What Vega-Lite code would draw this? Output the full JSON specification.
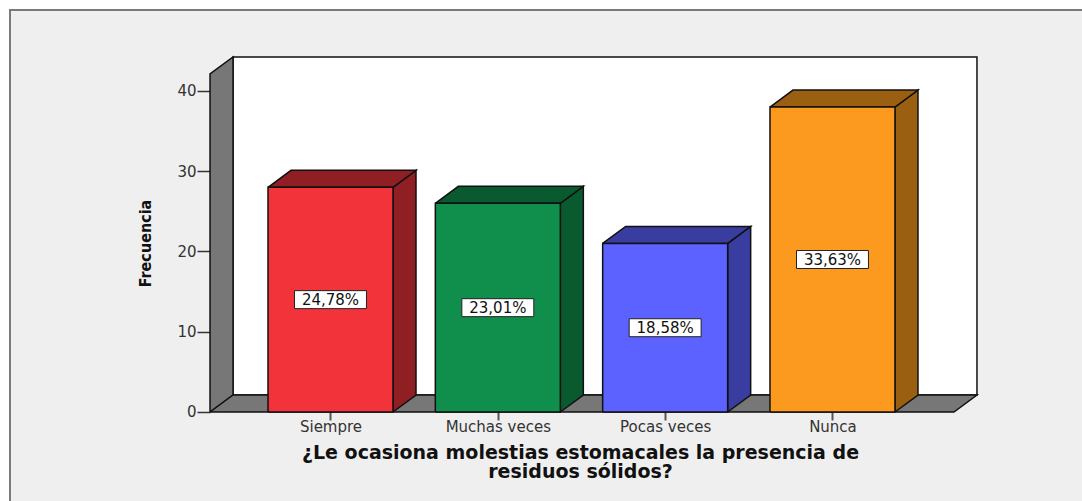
{
"$schema":"https://vega.github.io/schema/vega-lite/v6.json",
"width":1072,"height":491,
"autosize":{"type":"none"},
"padding":{"left":10,"top":10,"right":0,"bottom":0},
"background":"#ffffff",
"view":{"fill":"#efefef","stroke":null},
"config":{"line":{"strokeJoin":"miter","strokeWidth":1.5,"stroke":"#111111"}},
"datasets":{
"barras":[
{"i":1,"categoria":"Siempre","frecuencia":28,"porcentaje":"24,78%"},
{"i":2,"categoria":"Muchas veces","frecuencia":26,"porcentaje":"23,01%"},
{"i":3,"categoria":"Pocas veces","frecuencia":21,"porcentaje":"18,58%"},
{"i":4,"categoria":"Nunca","frecuencia":38,"porcentaje":"33,63%"}
],
"marco":[{"x0":0.28,"x1":4.726,"top":42.12}],
"borde":[{"vx":-0.9154,"vy":-11.09,"k":0},{"vx":-0.9154,"vy":50.09,"k":1},{"vx":5.4912,"vy":50.09,"k":2}]
},
"encoding":{
"x":{"field":"vx","type":"quantitative","scale":{"domain":[-0.9154,5.4912],"nice":false,"zero":false},
 "axis":{"values":[1,2,3,4],"labelExpr":"['Siempre','Muchas veces','Pocas veces','Nunca'][datum.value-1]","grid":false,"domain":false,"offset":-89,
 "tickSize":8,"tickColor":"#555555","tickWidth":2,"labelFont":"DejaVu Sans","labelFontSize":15,"labelColor":"#333333","labelPadding":-1,"labelOverlap":false,
 "title":["¿Le ocasiona molestias estomacales la presencia de","residuos sólidos?"],"titleFont":"DejaVu Sans","titleFontSize":19,"titleFontWeight":"bold","titleColor":"#111111","titleX":570,"titleY":31,"titleLineHeight":19}},
"y":{"field":"vy","type":"quantitative","scale":{"domain":[-11.09,50.09],"nice":false,"zero":false},
 "axis":{"values":[0,10,20,30,40],"grid":false,"domain":false,"offset":-200,
 "tickSize":13,"tickColor":"#333333","tickWidth":1.5,"labelFont":"DejaVu Sans","labelFontSize":15,"labelColor":"#333333","labelPadding":1,
 "title":"Frecuencia","titleFont":"DejaVu Sans Condensed","titleFontSize":16,"titleFontWeight":"bold","titleColor":"#111111","titleX":-57,"titleY":233}},
"order":{"field":"k","type":"quantitative"}
},
"layer":[
{"data":{"name":"borde"},"mark":{"type":"line","stroke":"#7a7a7a","strokeWidth":2,"clip":false}},
{"data":{"name":"marco"},
 "transform":[
 {"calculate":"[datum.x0+0.1375,datum.x1+0.1375,datum.x1+0.1375,datum.x0+0.1375,datum.x0+0.1375]","as":"xs"},
 {"calculate":"[2.118,2.118,datum.top+2.118,datum.top+2.118,2.118]","as":"ys"},
 {"calculate":"[0,1,2,3,4]","as":"ks"},
 {"flatten":["xs","ys","ks"],"as":["vx","vy","k"]}],
 "mark":{"type":"line","fill":"#ffffff"}},
{"data":{"name":"marco"},
 "transform":[
 {"calculate":"[datum.x0,datum.x0+0.1375,datum.x0+0.1375,datum.x0,datum.x0]","as":"xs"},
 {"calculate":"[0,2.118,datum.top+2.118,datum.top,0]","as":"ys"},
 {"calculate":"[0,1,2,3,4]","as":"ks"},
 {"flatten":["xs","ys","ks"],"as":["vx","vy","k"]}],
 "mark":{"type":"line","fill":"#777777"}},
{"data":{"name":"marco"},
 "transform":[
 {"calculate":"[datum.x0,datum.x1,datum.x1+0.1375,datum.x0+0.1375,datum.x0]","as":"xs"},
 {"calculate":"[0,0,2.118,2.118,0]","as":"ys"},
 {"calculate":"[0,1,2,3,4]","as":"ks"},
 {"flatten":["xs","ys","ks"],"as":["vx","vy","k"]}],
 "mark":{"type":"line","fill":"#777777"}},
{"data":{"name":"barras"},
 "transform":[
 {"calculate":"[datum.i+0.3735,datum.i+0.511,datum.i+0.511,datum.i+0.3735,datum.i+0.3735]","as":"xs"},
 {"calculate":"[0,2.118,datum.frecuencia+2.118,datum.frecuencia,0]","as":"ys"},
 {"calculate":"[0,1,2,3,4]","as":"ks"},
 {"flatten":["xs","ys","ks"],"as":["vx","vy","k"]}],
 "mark":{"type":"line","filled":true,"stroke":"#111111","strokeWidth":1.5},
 "encoding":{"color":{"field":"categoria","scale":{"domain":["Siempre","Muchas veces","Pocas veces","Nunca"],"range":["#8f1f22","#0a5a2f","#393da0","#9a5f10"]},"legend":null}}},
{"data":{"name":"barras"},
 "transform":[
 {"calculate":"[datum.i-0.3735,datum.i+0.3735,datum.i+0.511,datum.i-0.236,datum.i-0.3735]","as":"xs"},
 {"calculate":"[datum.frecuencia,datum.frecuencia,datum.frecuencia+2.118,datum.frecuencia+2.118,datum.frecuencia]","as":"ys"},
 {"calculate":"[0,1,2,3,4]","as":"ks"},
 {"flatten":["xs","ys","ks"],"as":["vx","vy","k"]}],
 "mark":{"type":"line","filled":true,"stroke":"#111111","strokeWidth":1.5},
 "encoding":{"color":{"field":"categoria","scale":{"domain":["Siempre","Muchas veces","Pocas veces","Nunca"],"range":["#8f1f22","#0a5a2f","#393da0","#9a5f10"]},"legend":null}}},
{"data":{"name":"barras"},
 "transform":[
 {"calculate":"[datum.i-0.3735,datum.i+0.3735,datum.i+0.3735,datum.i-0.3735,datum.i-0.3735]","as":"xs"},
 {"calculate":"[0,0,datum.frecuencia,datum.frecuencia,0]","as":"ys"},
 {"calculate":"[0,1,2,3,4]","as":"ks"},
 {"flatten":["xs","ys","ks"],"as":["vx","vy","k"]}],
 "mark":{"type":"line","filled":true,"stroke":"#111111","strokeWidth":1.5},
 "encoding":{"color":{"field":"categoria","scale":{"domain":["Siempre","Muchas veces","Pocas veces","Nunca"],"range":["#f2333a","#0f8f4b","#5b62ff","#fb9a1f"]},"legend":null}}},
{"data":{"name":"barras"},
 "transform":[
 {"calculate":"[datum.i-0.215,datum.i+0.215,datum.i+0.215,datum.i-0.215,datum.i-0.215]","as":"xs"},
 {"calculate":"[datum.frecuencia/2-1.12,datum.frecuencia/2-1.12,datum.frecuencia/2+1.12,datum.frecuencia/2+1.12,datum.frecuencia/2-1.12]","as":"ys"},
 {"calculate":"[0,1,2,3,4]","as":"ks"},
 {"flatten":["xs","ys","ks"],"as":["vx","vy","k"]}],
 "mark":{"type":"line","fill":"#ffffff","stroke":"#222222","strokeWidth":1},
 "encoding":{"detail":{"field":"categoria"}}},
{"data":{"name":"barras"},
 "transform":[{"calculate":"datum.i","as":"vx"},{"calculate":"datum.frecuencia/2","as":"vy"}],
 "mark":{"type":"text","font":"DejaVu Sans","fontSize":15,"color":"#111111","align":"center","baseline":"middle"},
 "encoding":{"text":{"field":"porcentaje"}}}
],
"resolve":{"scale":{"color":"independent"}}
}
